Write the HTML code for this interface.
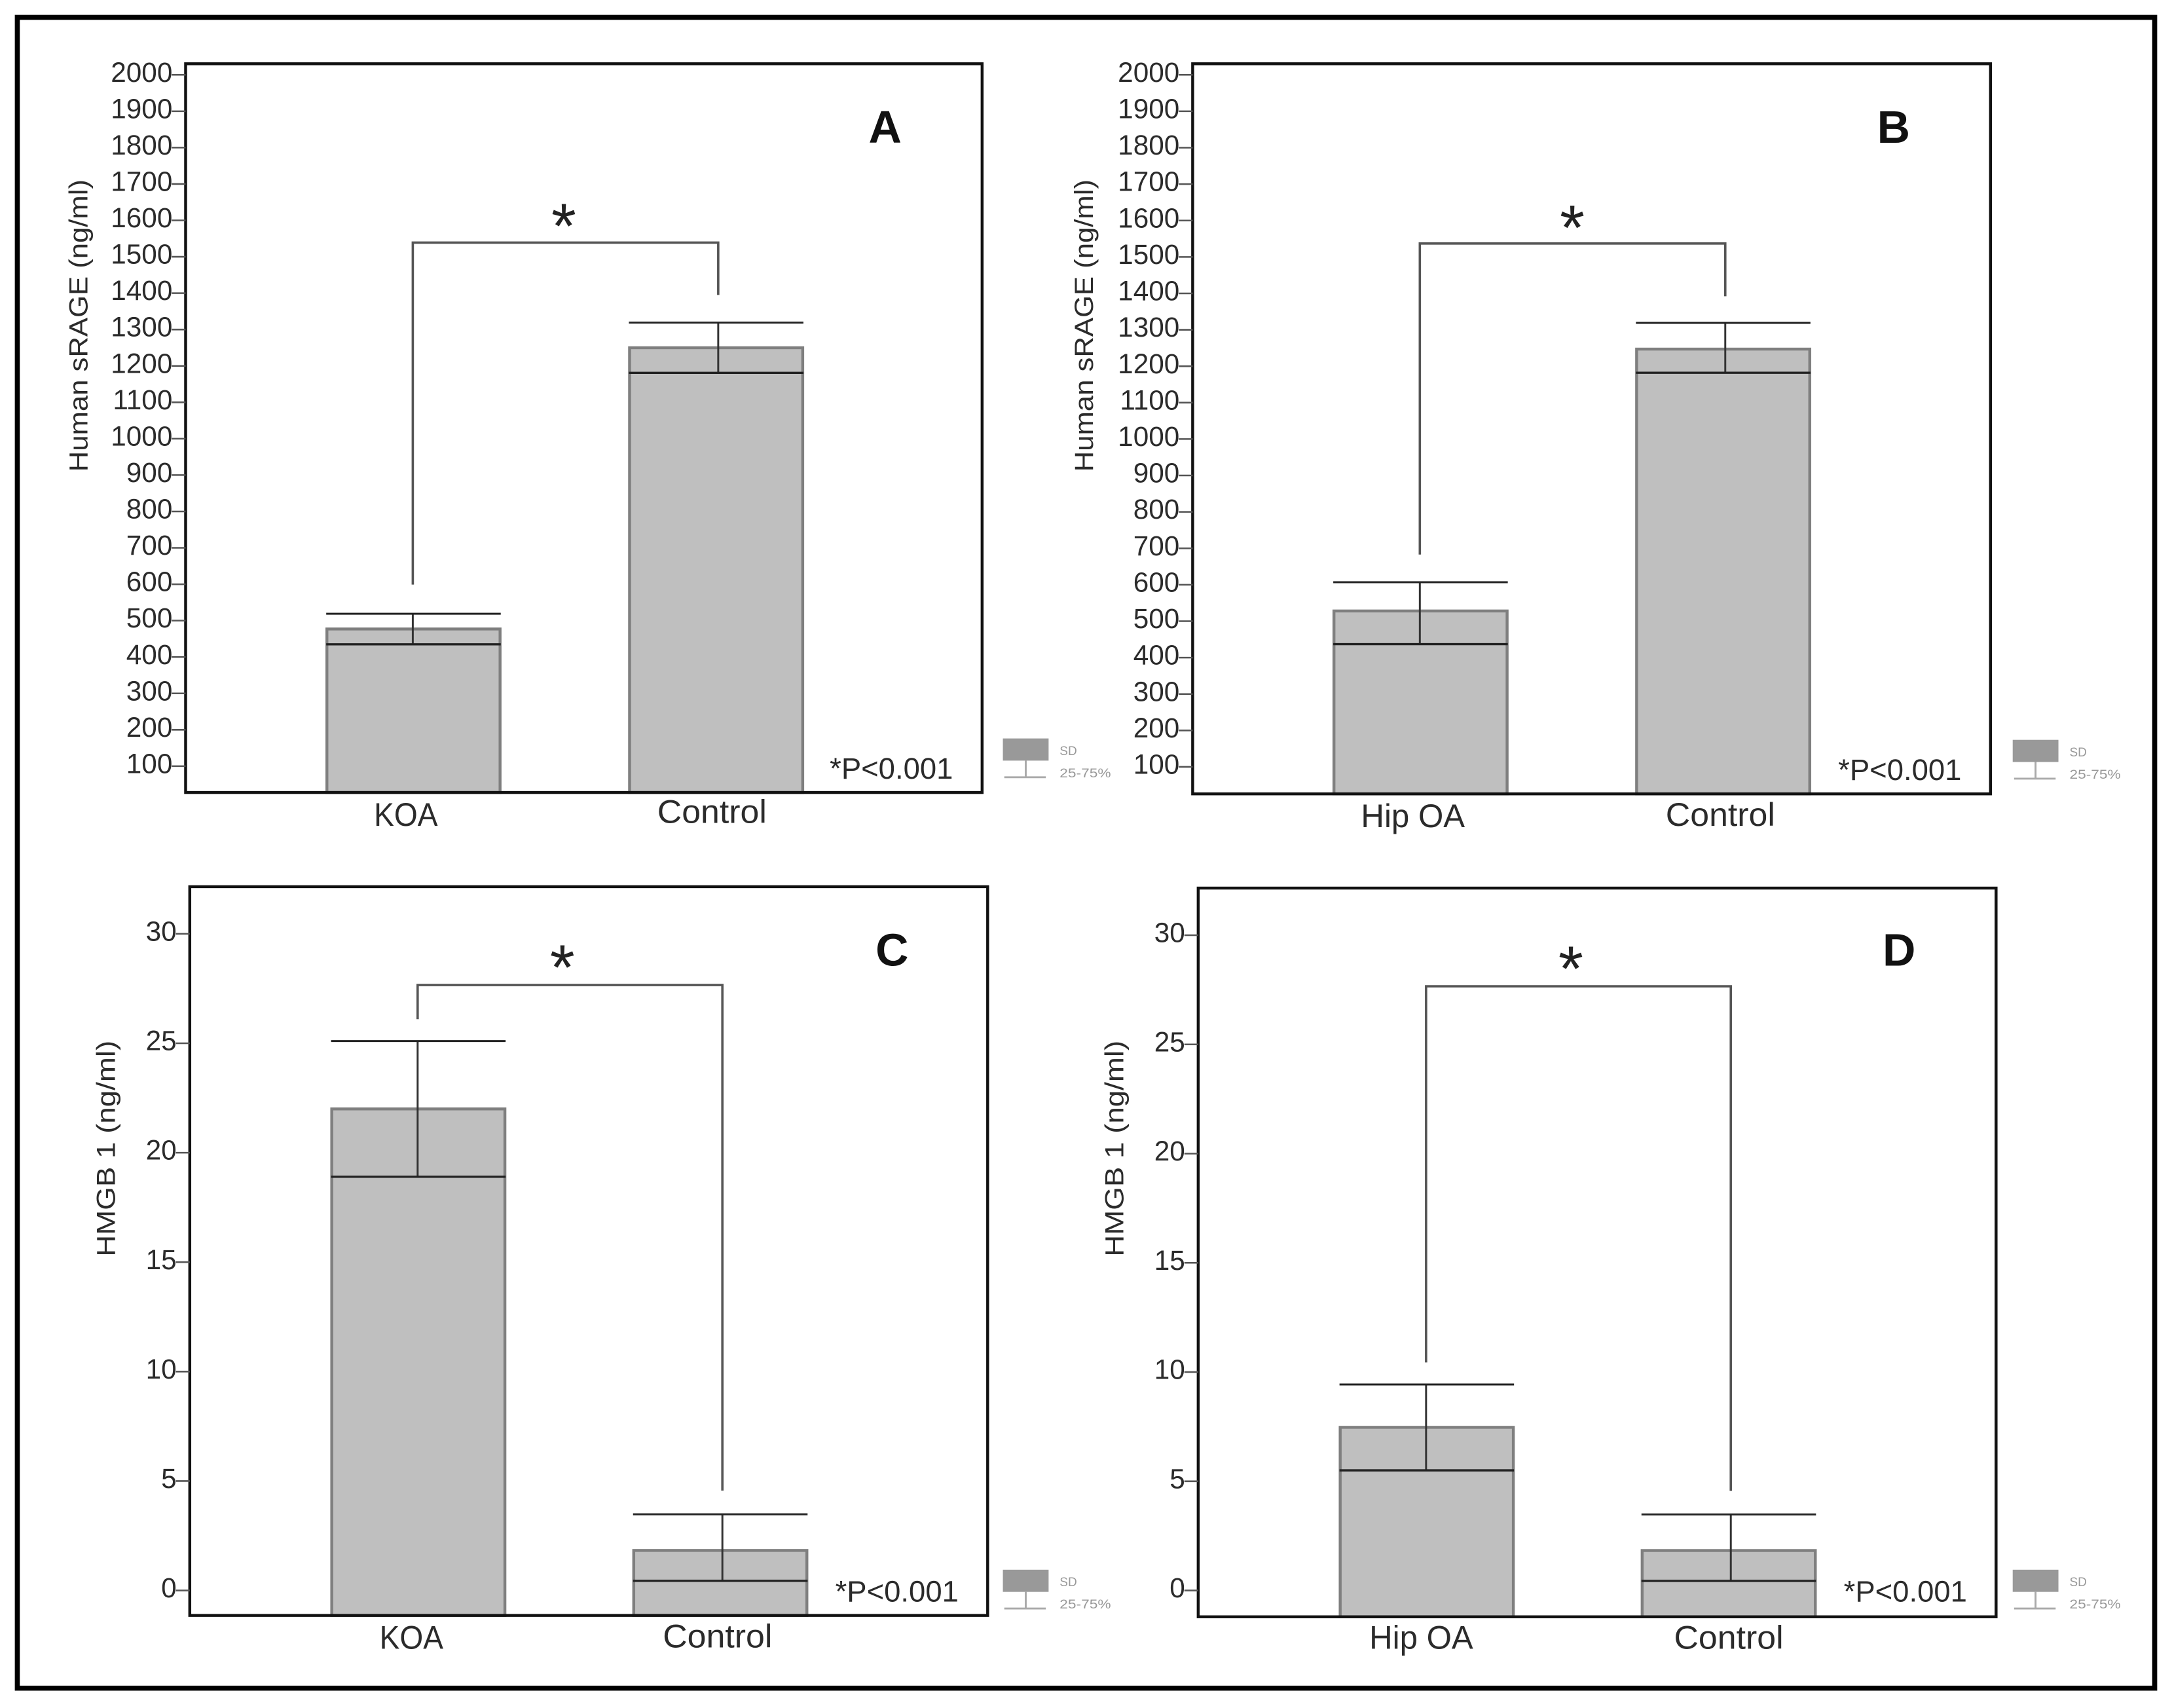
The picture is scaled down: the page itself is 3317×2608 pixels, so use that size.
<!DOCTYPE html>
<html>
<head>
<meta charset="utf-8">
<title>sRAGE and HMGB1 bar charts</title>
<style>
html,body{margin:0;padding:0;background:#fff;}
svg{display:block;}
text{font-family:"Liberation Sans",sans-serif;}
</style>
</head>
<body>
<svg id="figure" xmlns="http://www.w3.org/2000/svg" width="3317" height="2608" viewBox="0 0 1568 1232.8">
<rect x="0" y="0" width="1568" height="1233" fill="#ffffff"/>
<rect x="12.5" y="12.5" width="1543" height="1206" fill="none" stroke="#000" stroke-width="3.6"/>
</svg>
<script>
// Tick labels
const sragePanelTicks = [100,200,300,400,500,600,700,800,900,1000,1100,1200,1300,1400,1500,1600,1700,1800,1900,2000];
const hmgbPanelTicks = [0,5,10,15,20,25,30];

// Panel A
const categoriesA = ['KOA','Control'];
const meansA = [477,1250];
const upperA = [519,1319];
const lowerA = [435,1181];
const bracketTopA = [1539];
const bracketEndsA = [599,1395];

// Panel B
const categoriesB = ['Hip OA','Control'];
const meansB = [528,1247];
const upperB = [607,1319];
const lowerB = [437,1182];
const bracketTopB = [1537];
const bracketEndsB = [683,1392];

// Panel C
const categoriesC = ['KOA','Control'];
const meansC = [22,1.83];
const upperC = [25.1,3.48];
const lowerC = [18.9,0.44];
const bracketTopC = [27.66];
const bracketEndsC = [26.1,4.56];

// Panel D
const categoriesD = ['Hip OA','Control'];
const meansD = [7.47,1.83];
const upperD = [9.43,3.48];
const lowerD = [5.5,0.44];
const bracketTopD = [27.66];
const bracketEndsD = [10.44,4.56];

const NS = 'http://www.w3.org/2000/svg';
const root = document.getElementById('figure');

function mk(parent, tag, attrs, txt) {
  const el = document.createElementNS(NS, tag);
  for (const k in attrs) el.setAttribute(k, attrs[k]);
  if (txt !== undefined) el.textContent = txt;
  parent.appendChild(el);
  return el;
}

function drawPanel(p, d) {
  const g = mk(root, 'g', {});
  
  

  const yScale = v => p.yA + (v - p.vA) * (p.yB - p.yA) / (p.vB - p.vA);
  const barCenter = i => p.x0 + i * p.dx;
  const whiskerX = i => barCenter(i) + i * 2 - 0.5;
  const ink = '#2b2b2b';

  // bars first, so the whiskers and frame sit on top
  d.categories.forEach((cat, i) => {
    const top = yScale(d.means[i]);
    const bar = mk(g, 'rect', {x: barCenter(i) - 62.5, y: top, width: 125, height: p.bottom - top, fill: '#bfbfbf', stroke: '#7f7f7f', 'stroke-width': 2.1});
    
    

    const up = yScale(d.upper[i]);
    const lo = yScale(d.lower[i]);
    const wx = whiskerX(i);
    const stem = mk(g, 'line', {x1: wx, x2: wx, y1: up, y2: lo, stroke: '#333', 'stroke-width': 1.4});
    
    
    const capU = mk(g, 'line', {x1: barCenter(i) - 63, x2: barCenter(i) + 63, y1: up, y2: up, stroke: '#222', 'stroke-width': 1.4});
    
    
    const capL = mk(g, 'line', {x1: barCenter(i) - 63, x2: barCenter(i) + 63, y1: lo, y2: lo, stroke: '#222', 'stroke-width': 1.6});
    
    

    const lab = mk(g, 'text', {x: p.catX[i], y: p.catY[i], 'text-anchor': 'middle', 'font-size': 23.5, fill: ink, textLength: p.catW[i], lengthAdjust: 'spacingAndGlyphs'}, cat);
    
    
  });

  // plot frame
  const frame = mk(g, 'rect', {x: p.left, y: p.top, width: p.right - p.left, height: p.bottom - p.top, fill: 'none', stroke: '#111', 'stroke-width': 2.1});
  
  

  // y axis
  d.ticks.forEach(t => {
    const ty = yScale(t);
    const tick = mk(g, 'line', {x1: p.left - 10, x2: p.left, y1: ty, y2: ty, stroke: '#555', 'stroke-width': 1.2});
    
    
    const lab = mk(g, 'text', {x: p.left - 9.5, y: ty + 5, 'text-anchor': 'end', 'font-size': 20, fill: ink}, String(t));
    
    
  });

  const title = mk(g, 'text', {x: p.titleX, y: p.titleY, 'text-anchor': 'middle', 'font-size': 19, fill: ink, textLength: p.titleW, lengthAdjust: 'spacingAndGlyphs', transform: 'rotate(-90 ' + p.titleX + ' ' + p.titleY + ')'}, d.title);
  
  

  // significance bracket
  const bx0 = whiskerX(0);
  const bx1 = whiskerX(1);
  const byTop = yScale(d.bracketTop[0]);
  const br = mk(g, 'polyline', {points: bx0 + ',' + yScale(d.bracketEnds[0]) + ' ' + bx0 + ',' + byTop + ' ' + bx1 + ',' + byTop + ' ' + bx1 + ',' + yScale(d.bracketEnds[1]), fill: 'none', stroke: '#555', 'stroke-width': 1.7});
  
  

  const star = mk(g, 'text', {x: p.starX, y: p.starY + 22, 'text-anchor': 'middle', 'font-family': '"DejaVu Sans",sans-serif', 'font-size': 46, fill: '#222'}, '*');
  
  

  const letter = mk(g, 'text', {x: p.letterX, y: p.letterY + 12, 'text-anchor': 'middle', 'font-size': 33, 'font-weight': 'bold', fill: '#111'}, p.letter);
  
  

  const pv = mk(g, 'text', {x: p.pX, y: p.pY + 8, 'font-size': 21.5, fill: ink, textLength: 89, lengthAdjust: 'spacingAndGlyphs'}, '*P<0.001');
  
  

  // legend key
  const lx = p.legX;
  const ly = p.legY;
  const box = mk(g, 'rect', {x: lx, y: ly, width: 33, height: 16, fill: '#999999'});
  
  
  const lstem = mk(g, 'line', {x1: lx + 16.5, x2: lx + 16.5, y1: ly + 16, y2: ly + 28, stroke: '#aaa', 'stroke-width': 1.4});
  
  
  const lbase = mk(g, 'line', {x1: lx + 1, x2: lx + 31, y1: ly + 28, y2: ly + 28, stroke: '#aaa', 'stroke-width': 1.4});
  
  
  const sd = mk(g, 'text', {x: lx + 41, y: ly + 12, 'font-size': 9, fill: '#999'}, 'SD');
  
  
  const rng = mk(g, 'text', {x: lx + 41, y: ly + 28, 'font-size': 9, fill: '#999', textLength: 37, lengthAdjust: 'spacingAndGlyphs'}, '25-75%');
  
  
}

drawPanel(
  {letter:'A', left:134, right:709, top:46, bottom:572, x0:298.5, dx:218.5, vA:100, vB:2000, yA:553, yB:54,
   catX:[293,514], catY:[596,594], catW:[46,79], titleX:63, titleY:235, titleW:211,
   starX:407, starY:157, letterX:639, letterY:91, pX:599, pY:554, legX:724, legY:533},
  {categories:categoriesA, means:meansA, upper:upperA, lower:lowerA, ticks:sragePanelTicks, title:'Human sRAGE (ng/ml)', bracketTop:bracketTopA, bracketEnds:bracketEndsA}
);
drawPanel(
  {letter:'B', left:861, right:1437, top:46, bottom:573, x0:1025.5, dx:218.5, vA:100, vB:2000, yA:553.5, yB:54,
   catX:[1020,1242], catY:[597,596], catW:[75,79], titleX:789, titleY:235, titleW:211,
   starX:1135, starY:158, letterX:1367, letterY:91, pX:1327, pY:555, legX:1453, legY:534},
  {categories:categoriesB, means:meansB, upper:upperB, lower:lowerB, ticks:sragePanelTicks, title:'Human sRAGE (ng/ml)', bracketTop:bracketTopB, bracketEnds:bracketEndsB}
);
drawPanel(
  {letter:'C', left:137, right:713, top:640, bottom:1166, x0:302, dx:218, vA:0, vB:30, yA:1148, yB:674,
   catX:[297,518], catY:[1190,1189], catW:[46,79], titleX:83, titleY:829, titleW:156,
   starX:406, starY:692, letterX:644, letterY:685, pX:603, pY:1148, legX:724, legY:1133},
  {categories:categoriesC, means:meansC, upper:upperC, lower:lowerC, ticks:hmgbPanelTicks, title:'HMGB 1 (ng/ml)', bracketTop:bracketTopC, bracketEnds:bracketEndsC}
);
drawPanel(
  {letter:'D', left:865, right:1441, top:641, bottom:1167, x0:1030, dx:218, vA:0, vB:30, yA:1148, yB:675,
   catX:[1026,1248], catY:[1190,1190], catW:[75,79], titleX:811, titleY:829, titleW:156,
   starX:1134, starY:693, letterX:1371, letterY:685, pX:1331, pY:1148, legX:1453, legY:1133},
  {categories:categoriesD, means:meansD, upper:upperD, lower:lowerD, ticks:hmgbPanelTicks, title:'HMGB 1 (ng/ml)', bracketTop:bracketTopD, bracketEnds:bracketEndsD}
);
</script>
</body>
</html>
